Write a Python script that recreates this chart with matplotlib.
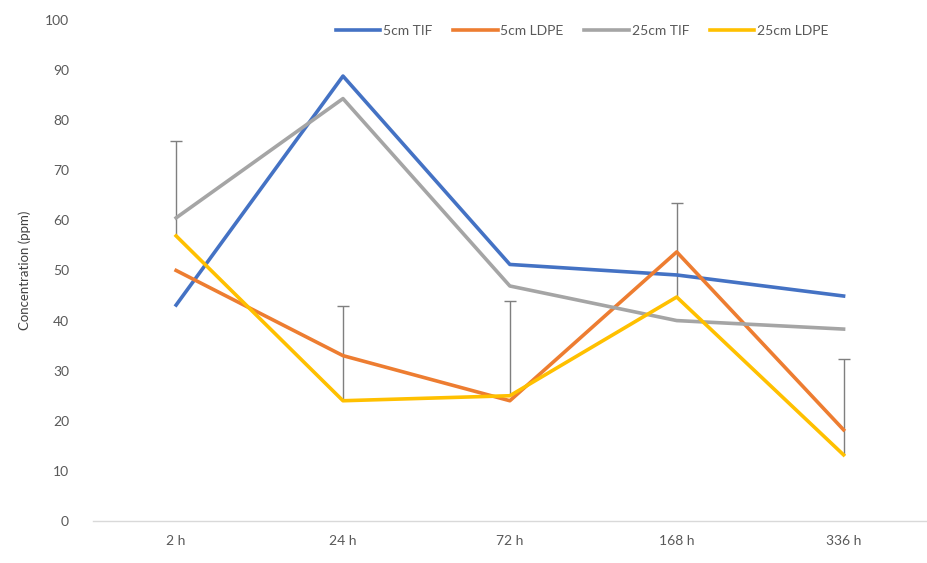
import matplotlib.pyplot as plt
import numpy as np

plt.rcParams['font.family'] = ['Lato', 'DejaVu Sans']

# time points and measured concentrations (ppm)
times = ["2 h", "24 h", "72 h", "168 h", "336 h"]
tif_5cm = [43.1, 88.8, 51.2, 49.1, 44.9]
ldpe_5cm = [50.0, 33.0, 24.0, 53.7, 18.2]
tif_25cm = [60.5, 84.3, 46.9, 40.0, 38.3]
ldpe_25cm = [56.9, 24.0, 25.0, 44.7, 13.2]
# upper error on the 25cm LDPE series
ldpe_25cm_err = [19.0, 18.9, 18.9, 18.8, 19.1]

x = np.arange(len(times))

fig = plt.figure(figsize=(9.27, 5.63), dpi=100)
ax = fig.add_axes([0.100, 0.0746, 0.900, 0.89])

#error bars go under the lines, only the top cap is shown
eb = ax.errorbar(x, ldpe_25cm, yerr=[np.zeros(len(x)), ldpe_25cm_err], fmt='none',
                 ecolor='#7f7f7f', elinewidth=1, capsize=4, capthick=1, zorder=1)
eb[1][0].set_visible(False)

ax.plot(x, tif_5cm, color='#4472C4', lw=2.6, label='5cm TIF', zorder=3)
ax.plot(x, ldpe_5cm, color='#ED7D31', lw=2.6, label='5cm LDPE', zorder=3)
ax.plot(x, tif_25cm, color='#A5A5A5', lw=2.6, label='25cm TIF', zorder=3)
ax.plot(x, ldpe_25cm, color='#FFC000', lw=2.6, label='25cm LDPE', zorder=3)

ax.set_xlim(-0.5, len(times) - 0.5)
ax.set_ylim(0, 100)
ax.set_yticks(range(0, 101, 10))
ax.set_xticks(x)
ax.set_xticklabels(times)
ax.tick_params(axis='both', length=0, labelsize=10, colors='#595959', pad=10)
ax.tick_params(axis='y', pad=17)

for s in ['top', 'right', 'left']:
    ax.spines[s].set_visible(False)
ax.spines['bottom'].set_color('#d9d9d9')
ax.spines['bottom'].set_linewidth(1)

ax.set_ylabel('Concentration (ppm)', fontsize=9.5, color='#404040', labelpad=10)

fig.legend(loc='center', bbox_to_anchor=(0.628, 0.945), ncol=4, frameon=False,
           fontsize=10, handlelength=3.2, handletextpad=0.2, columnspacing=1.5,
           labelcolor='#595959')

fig.savefig('out.png', dpi=100)
